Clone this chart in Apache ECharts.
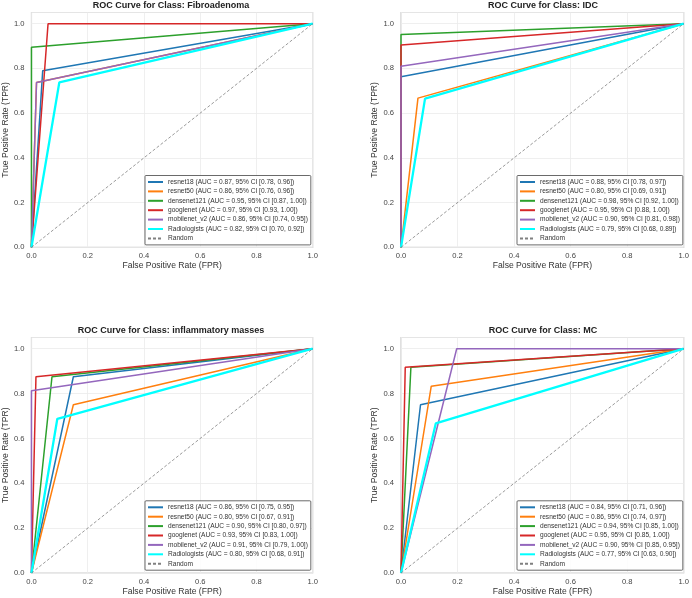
<!DOCTYPE html>
<html>
<head>
<meta charset="utf-8">
<script src="https://cdn.jsdelivr.net/npm/echarts@6/dist/echarts.min.js"></script>
<style>
  html, body { margin: 0; padding: 0; background: #fff; }
  #chart { width: 692px; height: 598px; }
</style>
</head>
<body>
<div id="chart"></div>
<script>
const models = ['resnet18', 'resnet50', 'densenet121', 'googlenet', 'mobilenet_v2', 'Radiologists']
const classNames = ['Fibroadenoma', 'IDC', 'inflammatory masses', 'MC']

// operating point of each model per class (the curve runs (0,0) -> point -> (1,1))
const fprFibro = [0.04, 0.018, 0, 0.059, 0.018, 0.099]
const tprFibro = [0.79, 0.737, 0.895, 1.0, 0.737, 0.737]
const fprIdc = [0, 0.06, 0, 0, 0, 0.085]
const tprIdc = [0.763, 0.667, 0.952, 0.905, 0.81, 0.665]
const fprInfl = [0.149, 0.149, 0.073, 0.016, 0, 0.092]
const tprInfl = [0.875, 0.75, 0.875, 0.875, 0.8125, 0.6875]
const fprMc = [0.069, 0.107, 0.035, 0.015, 0.197, 0.123]
const tprMc = [0.75, 0.833, 0.917, 0.917, 1.0, 0.667]

const aucFibro = ['0.87', '0.86', '0.95', '0.97', '0.86', '0.82']
const ciFibro = ['[0.78, 0.96]', '[0.76, 0.96]', '[0.87, 1.00]', '[0.93, 1.00]', '[0.74, 0.95]', '[0.70, 0.92]']
const aucIdc = ['0.88', '0.80', '0.98', '0.95', '0.90', '0.79']
const ciIdc = ['[0.78, 0.97]', '[0.69, 0.91]', '[0.92, 1.00]', '[0.88, 1.00]', '[0.81, 0.98]', '[0.68, 0.89]']
const aucInfl = ['0.86', '0.80', '0.90', '0.93', '0.91', '0.80']
const ciInfl = ['[0.75, 0.95]', '[0.67, 0.91]', '[0.80, 0.97]', '[0.83, 1.00]', '[0.79, 1.00]', '[0.68, 0.91]']
const aucMc = ['0.84', '0.86', '0.94', '0.95', '0.90', '0.77']
const ciMc = ['[0.71, 0.96]', '[0.74, 0.97]', '[0.85, 1.00]', '[0.85, 1.00]', '[0.85, 0.95]', '[0.63, 0.90]']

const fprAll = [fprFibro, fprIdc, fprInfl, fprMc]
const tprAll = [tprFibro, tprIdc, tprInfl, tprMc]
const aucAll = [aucFibro, aucIdc, aucInfl, aucMc]
const ciAll = [ciFibro, ciIdc, ciInfl, ciMc]

const colors = ['#1f77b4', '#ff7f0e', '#2ca02c', '#d62728', '#9467bd', '#00ffff']
const font = '"Liberation Sans", Arial, sans-serif'

// panel layout (pixels)
const panels = [
  { left: 29.3, top: 12.5, width: 283.4, height: 234.8, cx: 171, ty: 1, lx: 145, ly: 175.5 },
  { left: 401, top: 12.5, width: 284, height: 234.8, cx: 543, ty: 1, lx: 517, ly: 175.5 },
  { left: 29.3, top: 337.5, width: 283.4, height: 235.5, cx: 171, ty: 326, lx: 145, ly: 500.8 },
  { left: 401, top: 337.5, width: 284, height: 235.5, cx: 543, ty: 326, lx: 517, ly: 500.8 }
]

const chart = echarts.init(document.getElementById('chart'), null, { renderer: 'canvas' })

const grid = []
const xAxis = []
const yAxis = []
const title = []
const legend = []
const series = []

panels.forEach((p, k) => {
  grid.push({
    left: p.left, top: p.top, width: p.width, height: p.height,
    show: true, borderColor: '#cccccc', borderWidth: 1.2, backgroundColor: '#fff'
  })
  xAxis.push({
    type: 'value', gridIndex: k, min: 0, max: 1, interval: 0.2,
    name: 'False Positive Rate (FPR)', nameLocation: 'middle', nameGap: 14,
    nameTextStyle: { fontSize: 8.6, color: '#333', fontFamily: font },
    axisLine: { show: false }, axisTick: { show: false },
    axisLabel: { fontSize: 7.6, color: '#444', margin: 5, fontFamily: font,
      formatter: v => v.toFixed(1) },
    splitLine: { lineStyle: { color: '#ebebeb', width: 0.8 } }
  })
  yAxis.push({
    type: 'value', gridIndex: k, min: 0, max: 1.05, interval: 0.2,
    name: 'True Positive Rate (TPR)', nameLocation: 'middle', nameGap: 19,
    nameTextStyle: { fontSize: 8.6, color: '#333', fontFamily: font },
    axisLine: { show: false }, axisTick: { show: false },
    axisLabel: { fontSize: 7.6, color: '#444', margin: 7, fontFamily: font,
      formatter: v => (v > 1.001 ? '' : v.toFixed(1)) },
    splitLine: { lineStyle: { color: '#ebebeb', width: 0.8 } }
  })
  title.push({
    text: 'ROC Curve for Class: ' + classNames[k],
    left: p.cx, top: p.ty, textAlign: 'center', padding: 0,
    textStyle: { fontSize: 9, fontWeight: 'bold', color: '#222', fontFamily: font }
  })

  const names = []
  models.forEach((m, i) => {
    const name = `${m} (AUC = ${aucAll[k][i]}, 95% CI ${ciAll[k][i]})`
    names.push(name)
    series.push({
      name: name,
      type: 'line',
      xAxisIndex: k, yAxisIndex: k,
      symbol: 'none',
      animation: false,
      color: colors[i],
      lineStyle: { color: colors[i], width: i === 5 ? 2.3 : 1.5 },
      data: [[0, 0], [fprAll[k][i], tprAll[k][i]], [1, 1]]
    })
  })
  names.push('Random')
  series.push({
    name: 'Random',
    type: 'line',
    xAxisIndex: k, yAxisIndex: k,
    symbol: 'none',
    animation: false,
    color: '#808080',
    lineStyle: { color: '#808080', width: 0.8, type: [3, 2] },
    data: [[0, 0], [1, 1]]
  })

  legend.push({
    data: names,
    orient: 'vertical',
    left: p.lx, top: p.ly,
    padding: [2.5, 3, 2.5, 2],
    itemWidth: 15, itemHeight: 8, itemGap: 1.4,
    itemStyle: { opacity: 0 },
    borderColor: '#444', borderWidth: 0.8, borderRadius: 1,
    backgroundColor: 'rgba(255,255,255,0.85)',
    selectedMode: false,
    textStyle: { fontSize: 6.6, lineHeight: 8, color: '#333', fontFamily: font }
  })
})

chart.setOption({
  backgroundColor: '#fff',
  animation: false,
  title, grid, xAxis, yAxis, legend, series
})
</script>
</body>
</html>
